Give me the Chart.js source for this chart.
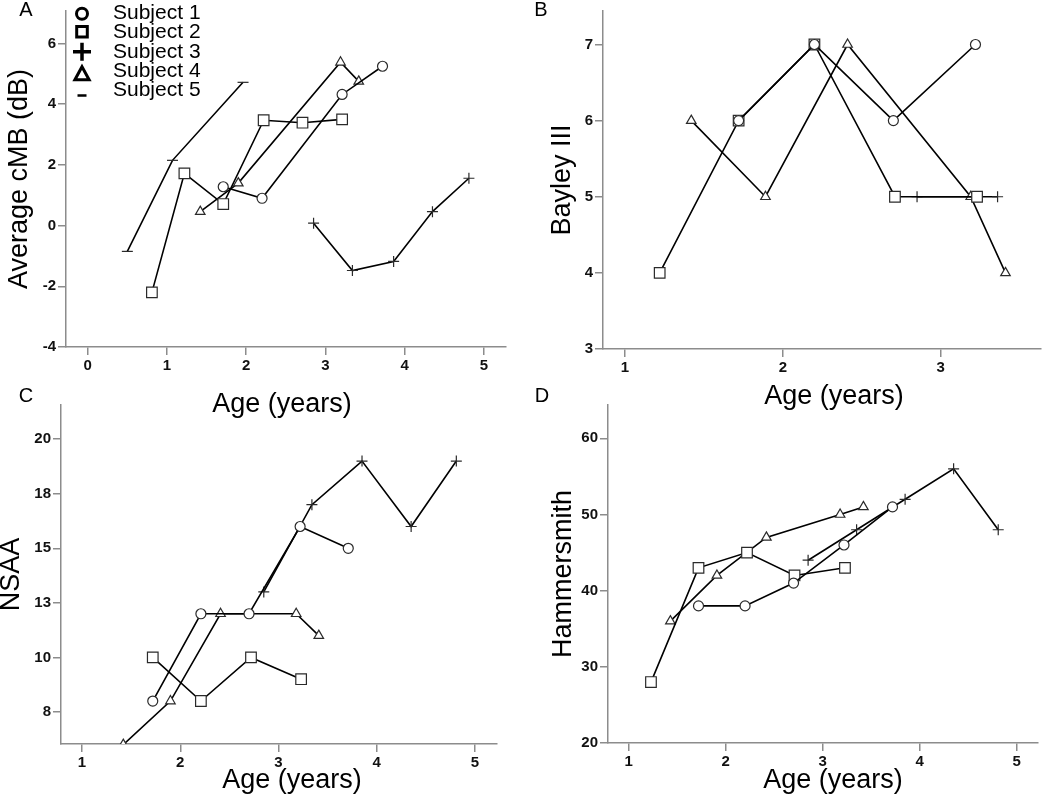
<!DOCTYPE html>
<html>
<head>
<meta charset="utf-8">
<script src="https://cdn.jsdelivr.net/npm/chart.js@4.4.1/dist/chart.umd.min.js"></script>
<style>
html,body{margin:0;padding:0;background:#fff;}
#wrap{position:relative;width:1050px;height:797px;overflow:hidden;background:#fff;}
#wrap canvas{position:absolute;left:0;top:0;}
</style>
</head>
<body>
<div id="wrap">
<canvas id="cA" width="1050" height="797"></canvas>
<canvas id="cB" width="1050" height="797"></canvas>
<canvas id="cC" width="1050" height="797"></canvas>
<canvas id="cD" width="1050" height="797"></canvas>
</div>
<script>
// ---------- DATA ----------
const subjects = ['Subject 1', 'Subject 2', 'Subject 3', 'Subject 4', 'Subject 5'];
const ageTitle = 'Age (years)';

// Panel A: Average cMB (dB)
const cmbAge1 = [1.71, 2.20, 3.21, 3.72];          const cmb1 = [1.28, 0.90, 4.32, 5.25];
const cmbAge2 = [0.81, 1.22, 1.71, 2.22, 2.71, 3.21]; const cmb2 = [-2.20, 1.72, 0.71, 3.47, 3.39, 3.50];
const cmbAge3 = [2.85, 3.34, 3.86, 4.35, 4.81];    const cmb3 = [0.08, -1.48, -1.18, 0.46, 1.56];
const cmbAge4 = [1.42, 1.90, 3.19, 3.42];          const cmb4 = [0.46, 1.40, 5.38, 4.75];
const cmbAge5 = [0.50, 1.07, 1.96];                const cmb5 = [-0.85, 2.15, 4.72];
const cmbTicks = [-4, -2, 0, 2, 4, 6];
const cmbTickLabels = ['-4', '-2', '0', '2', '4', '6'];
const ageTicksA = [0, 1, 2, 3, 4, 5];
const ageTickLabelsA = ['0', '1', '2', '3', '4', '5'];

// Panel B: Bayley III
const bayAge1 = [1.72, 2.20, 2.70, 3.22];          const bay1 = [6, 7, 6, 7];
const bayAge2 = [1.22, 1.72, 2.20, 2.71, 3.23];    const bay2 = [4, 6, 7, 5, 5];
const bayAge3 = [2.85, 3.36];                      const bay3 = [5, 5];
const bayAge4 = [1.42, 1.89, 2.41, 3.19, 3.41];    const bay4 = [6, 5, 7, 5, 4];
const bayTicks = [3, 4, 5, 6, 7];
const bayTickLabels = ['3', '4', '5', '6', '7'];
const ageTicksB = [1, 2, 3];
const ageTickLabelsB = ['1', '2', '3'];

// Panel C: NSAA
const nsaaAge1 = [1.72, 2.21, 2.70, 3.22, 3.71];   const nsaa1 = [8, 12, 12, 16, 15];
const nsaaAge2 = [1.72, 2.21, 2.72, 3.23];         const nsaa2 = [10, 8, 10, 9];
const nsaaAge3 = [2.85, 3.34, 3.85, 4.35, 4.81];   const nsaa3 = [13, 17, 19, 16, 19];
const nsaaAge4 = [1.42, 1.90, 2.41, 3.18, 3.41];   const nsaa4 = [6, 8, 12, 12, 11];
const nsaaTicks = [7.5, 10, 12.5, 15, 17.5, 20];
const nsaaTickLabels = ['8', '10', '13', '15', '18', '20'];
const ageTicksCD = [1, 2, 3, 4, 5];
const ageTickLabelsCD = ['1', '2', '3', '4', '5'];

// Panel D: Hammersmith
const hamAge1 = [1.72, 2.20, 2.70, 3.22, 3.72];    const ham1 = [38, 38, 41, 46, 51];
const hamAge2 = [1.23, 1.72, 2.22, 2.71, 3.23];    const ham2 = [28, 43, 45, 42, 43];
const hamAge3 = [2.85, 3.35, 3.85, 4.35, 4.81];    const ham3 = [44, 48, 52, 56, 48];
const hamAge4 = [1.43, 1.91, 2.42, 3.18, 3.42];    const ham4 = [36, 42, 47, 50, 51];
const hamTicks = [20, 30, 40, 50, 60];
const hamTickLabels = ['20', '30', '40', '50', '60'];

// ---------- STYLE ----------
const FONT = "'Liberation Sans', Arial, Helvetica, sans-serif";
const AXIS = '#8c8c8c';
const markerStyles = ['circle', 'rect', 'cross', 'triangle', 'line'];
const markerRadii = [5, 7.5, 5.5, 5.5, 5.5];

function series(ages, vals, s) {
  return {
    label: subjects[s],
    data: ages.map((a, i) => ({x: a, y: vals[i]})),
    showLine: true,
    borderColor: '#000',
    borderWidth: 1.6,
    pointStyle: markerStyles[s],
    pointRadius: markerRadii[s],
    pointBorderColor: '#2a2a2a',
    pointBorderWidth: 1.2,
    pointBackgroundColor: '#fff',
    tension: 0
  };
}

function axis(o) {
  return {
    type: 'linear',
    min: o.min, max: o.max,
    afterBuildTicks: s => { s.ticks = o.ticks.map(v => ({value: v})); },
    afterFit: s => { if (o.width != null) s.width = o.width; if (o.height != null) s.height = o.height; },
    grid: {drawOnChartArea: false, drawTicks: true, tickLength: 8, color: AXIS, lineWidth: 1.5},
    border: {display: true, color: AXIS, width: 1.5},
    ticks: {
      color: '#111', padding: 2, autoSkip: false, maxRotation: 0,
      font: {family: FONT, size: 15, weight: 'bold'},
      callback: v => { const i = o.ticks.indexOf(v); return i >= 0 ? o.labels[i] : ''; }
    },
    title: o.title ? {display: true, text: o.title, color: '#000',
      font: {family: FONT, size: 27, lineHeight: 1}, padding: {top: o.titlePad, bottom: 0}} : {display: false}
  };
}

function drawMarker(ctx, style, x, y, s) {
  ctx.beginPath();
  if (style === 'circle') ctx.arc(x, y, s, 0, Math.PI * 2);
  else if (style === 'rect') ctx.rect(x - s, y - s, 2 * s, 2 * s);
  else if (style === 'cross') { ctx.moveTo(x - s, y); ctx.lineTo(x + s, y); ctx.moveTo(x, y - s); ctx.lineTo(x, y + s); }
  else if (style === 'triangle') { ctx.moveTo(x, y - s); ctx.lineTo(x + s * 0.95, y + s * 0.75); ctx.lineTo(x - s * 0.95, y + s * 0.75); ctx.closePath(); }
  else if (style === 'line') { ctx.moveTo(x - s, y); ctx.lineTo(x + s, y); }
  ctx.stroke();
}

const decorPlugin = {
  id: 'panelDecor',
  afterDraw(chart, args, o) {
    const ctx = chart.ctx;
    ctx.save();
    ctx.fillStyle = '#000';
    ctx.font = '20px ' + FONT;
    ctx.textAlign = 'center';
    ctx.textBaseline = 'middle';
    ctx.fillText(o.letter, o.letterX, o.letterY);
    ctx.font = '27px ' + FONT;
    ctx.textBaseline = 'alphabetic';
    ctx.fillText(o.xTitle, o.xTitleX, o.xTitleY);
    if (o.legend) {
      const my = [13.7, 31.7, 51.7, 74.2, 95.5];
      const ms = [5.5, 5.3, 9, 7.5, 4.5];
      const lw = [3, 3, 3.5, 3, 2.5];
      ctx.strokeStyle = '#000';
      ctx.lineCap = 'butt';
      for (let i = 0; i < subjects.length; i++) {
        ctx.lineWidth = lw[i];
        drawMarker(ctx, markerStyles[i], 82, my[i], ms[i]);
      }
      ctx.font = '21px ' + FONT;
      ctx.textAlign = 'left';
      ctx.textBaseline = 'middle';
      for (let i = 0; i < subjects.length; i++) {
        ctx.fillText(subjects[i], 113, 13.5 + i * 19.2);
      }
    }
    ctx.restore();
  }
};

function makeChart(id, datasets, xAx, yAx, pad, decor) {
  return new Chart(document.getElementById(id), {
    type: 'scatter',
    data: {datasets},
    options: {
      responsive: false,
      animation: false,
      events: [],
      layout: {padding: pad},
      plugins: {legend: {display: false}, tooltip: {enabled: false}, title: {display: false}, panelDecor: decor},
      scales: {x: xAx, y: yAx}
    },
    plugins: [decorPlugin]
  });
}

// Panel A  (chart area 66..506 x 10..347)
makeChart('cA',
  [series(cmbAge1, cmb1, 0), series(cmbAge2, cmb2, 1), series(cmbAge3, cmb3, 2), series(cmbAge4, cmb4, 3), series(cmbAge5, cmb5, 4)],
  axis({min: -0.274, max: 5.278, ticks: ageTicksA, labels: ageTickLabelsA, height: 40}),
  axis({min: -4, max: 7.07, ticks: cmbTicks, labels: cmbTickLabels, width: 66, title: 'Average cMB (dB)', titlePad: 6}),
  {left: 0, top: 10, right: 544, bottom: 410},
  {letter: 'A', letterX: 26, letterY: 10, xTitle: ageTitle, xTitleX: 282, xTitleY: 412, legend: true});

// Panel B  (chart area 603..1041 x 10..349)
makeChart('cB',
  [series(bayAge1, bay1, 0), series(bayAge2, bay2, 1), series(bayAge3, bay3, 2), series(bayAge4, bay4, 3)],
  axis({min: 0.861, max: 3.635, ticks: ageTicksB, labels: ageTickLabelsB, height: 40}),
  axis({min: 3, max: 7.44, ticks: bayTicks, labels: bayTickLabels, width: 83, title: 'Bayley III', titlePad: 29}),
  {left: 520, top: 10, right: 9, bottom: 408},
  {letter: 'B', letterX: 541, letterY: 10, xTitle: ageTitle, xTitleX: 834, xTitleY: 404, legend: false});

// Panel C  (chart area 61..497 x 405..744)
makeChart('cC',
  [series(nsaaAge1, nsaa1, 0), series(nsaaAge2, nsaa2, 1), series(nsaaAge3, nsaa3, 2), series(nsaaAge4, nsaa4, 3)],
  axis({min: 0.786, max: 5.224, ticks: ageTicksCD, labels: ageTickLabelsCD, height: 40}),
  axis({min: 6.03, max: 21.57, ticks: nsaaTicks, labels: nsaaTickLabels, width: 61, title: 'NSAA', titlePad: -1.5}),
  {left: 0, top: 405, right: 553, bottom: 13},
  {letter: 'C', letterX: 26, letterY: 396, xTitle: ageTitle, xTitleX: 292, xTitleY: 788, legend: false});

// Panel D  (chart area 608..1038 x 405..743)
makeChart('cD',
  [series(hamAge1, ham1, 0), series(hamAge2, ham2, 1), series(hamAge3, ham3, 2), series(hamAge4, ham4, 3)],
  axis({min: 0.787, max: 5.22, ticks: ageTicksCD, labels: ageTickLabelsCD, height: 40}),
  axis({min: 20, max: 64.38, ticks: hamTicks, labels: hamTickLabels, width: 88, title: 'Hammersmith', titlePad: 30.5}),
  {left: 520, top: 405, right: 12, bottom: 14},
  {letter: 'D', letterX: 542, letterY: 396, xTitle: ageTitle, xTitleX: 833, xTitleY: 788, legend: false});
</script>
</body>
</html>
